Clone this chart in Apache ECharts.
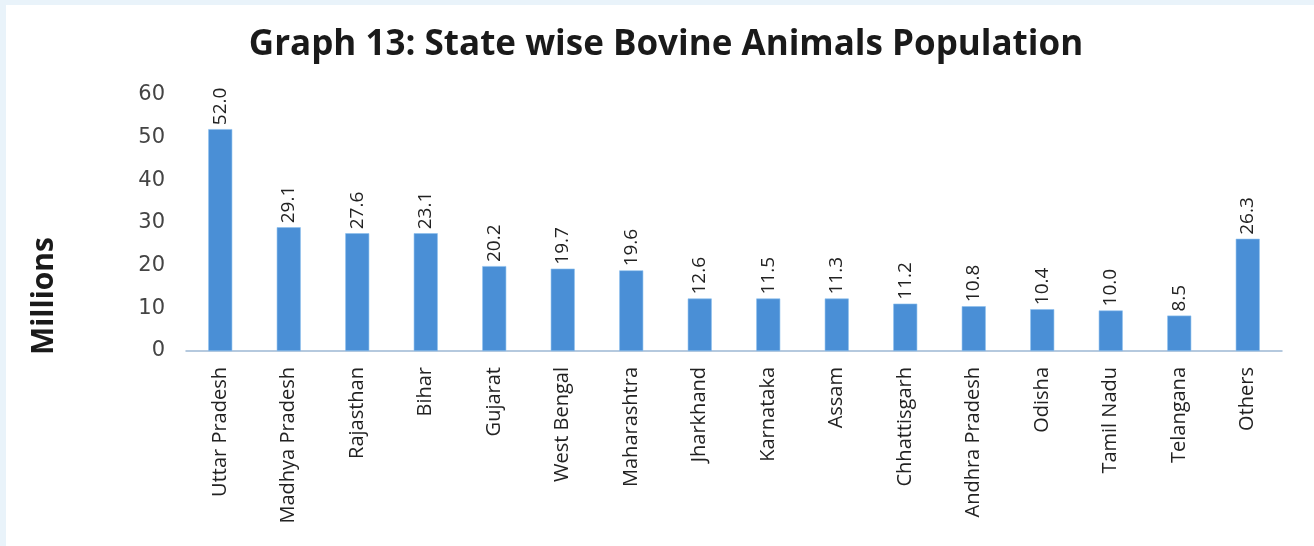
<!DOCTYPE html>
<html>
<head>
<meta charset="utf-8">
<script src="https://cdn.jsdelivr.net/npm/echarts@6/dist/echarts.min.js"></script>
<style>
  html, body { margin: 0; padding: 0; background: #e9f3fa; }
  #frame { position: absolute; left: 6px; top: 5px; width: 1308px; height: 541px; background: #ffffff; }
  #chart { position: absolute; left: -6px; top: -5px; width: 1314px; height: 546px; }
</style>
</head>
<body>
<div id="frame"><div id="chart"></div></div>
<script>
const categories = ["Uttar Pradesh", "Madhya Pradesh", "Rajasthan", "Bihar", "Gujarat", "West Bengal", "Maharashtra", "Jharkhand", "Karnataka", "Assam", "Chhattisgarh", "Andhra Pradesh", "Odisha", "Tamil Nadu", "Telangana", "Others"];
// bar heights as drawn in the picture (millions)
const barHeights = [52.0, 29.0, 27.6, 27.6, 19.9, 19.3, 18.9, 12.3, 12.3, 12.3, 11.1, 10.5, 9.8, 9.5, 8.3, 26.3];
// printed data labels
const valueLabels = ["52.0", "29.1", "27.6", "23.1", "20.2", "19.7", "19.6", "12.6", "11.5", "11.3", "11.2", "10.8", "10.4", "10.0", "8.5", "26.3"];
const yTicks = [0, 10, 20, 30, 40, 50, 60];

const chart = echarts.init(document.getElementById('chart'), null, { renderer: 'canvas' });
chart.setOption({
  backgroundColor: 'transparent',
  animation: false,
  title: {
    text: 'Graph 13: State wise Bovine Animals Population',
    left: 661, top: 23, textAlign: 'center',
    textStyle: { fontFamily: 'Open Sans', fontWeight: 'bold', fontSize: 35, color: '#1a1a1a' }
  },
  graphic: [{
    type: 'text', left: 29, top: 237, rotation: Math.PI / 2,
    style: { text: 'Millions', fontFamily: 'Open Sans', fontWeight: 'bold', fontSize: 30, fill: '#1a1a1a' }
  }],
  grid: { left: 186, right: 32, top: 95, bottom: 195, containLabel: false },
  xAxis: {
    type: 'category',
    data: categories,
    axisLine: { show: true, lineStyle: { color: '#9db8d4', width: 1.5 } },
    axisTick: { show: false },
    axisLabel: { rotate: 90, interval: 0, margin: 16, fontFamily: 'Open Sans', fontSize: 20, color: '#222222' }
  },
  yAxis: {
    type: 'value', min: yTicks[0], max: yTicks[yTicks.length - 1], interval: 10,
    axisLine: { show: false }, axisTick: { show: false },
    splitLine: { show: false },
    axisLabel: { margin: 21, fontFamily: 'DejaVu Sans', fontSize: 21, color: '#444444' }
  },
  series: [{
    type: 'bar',
    data: barHeights,
    barWidth: 24,
    itemStyle: { color: '#4a8fd6', borderColor: '#8cc0ee', borderWidth: 0.6 },
    label: {
      show: true, position: 'top', rotate: 90, align: 'left', verticalAlign: 'middle', distance: 4,
      fontFamily: 'Open Sans', fontSize: 19, color: '#222222',
      formatter: p => valueLabels[p.dataIndex]
    }
  }]
});
</script>
</body>
</html>
